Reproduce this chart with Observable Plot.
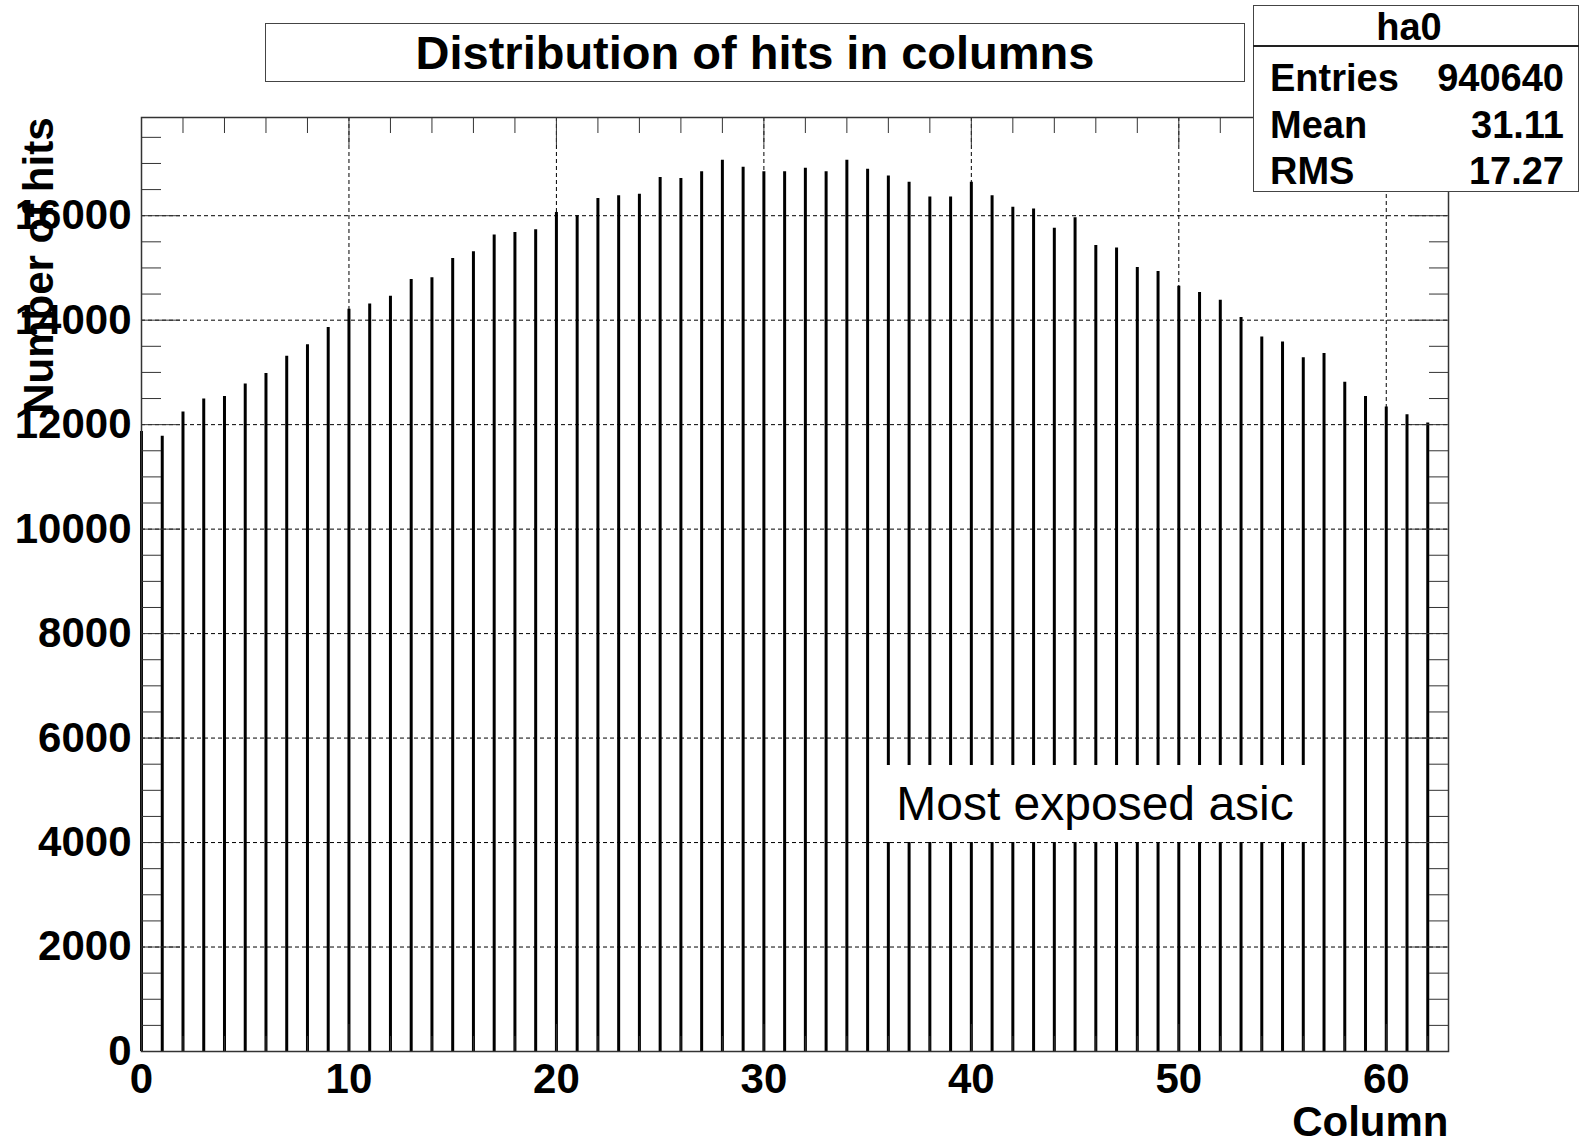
<!DOCTYPE html>
<html>
<head>
<meta charset="utf-8">
<script src="https://cdn.jsdelivr.net/npm/d3@7"></script>
<script src="https://cdn.jsdelivr.net/npm/@observablehq/plot@0.6"></script>
<style>
  body { margin: 0; background: #fff; font-family: "Liberation Sans", Arial, sans-serif; }
  #wrap { position: relative; width: 1583px; height: 1146px; overflow: hidden; }
  .box { position: absolute; background: #fff; border: 1.5px solid #444; box-sizing: border-box; }
  .t { position: absolute; line-height: 1; white-space: nowrap; color: #000; }
</style>
</head>
<body>
<div id="wrap"></div>
<script>
// ---- data ----
const columns = [0,1,2,3,4,5,6,7,8,9,10,11,12,13,14,15,16,17,18,19,20,21,22,23,24,25,26,27,28,29,30,
                 31,32,33,34,35,36,37,38,39,40,41,42,43,44,45,46,47,48,49,50,51,52,53,54,55,56,57,58,59,60,61,62];
const hits = [11870,11780,12240,12490,12540,12780,12980,13310,13530,13860,
              14210,14310,14460,14780,14810,15180,15310,15630,15680,15730,
              16060,16000,16330,16380,16410,16730,16710,16840,17060,16930,
              16840,16840,16910,16840,17060,16890,16760,16640,16360,16360,
              16640,16380,16160,16130,15760,15960,15430,15380,15010,14930,
              14650,14530,14380,14050,13680,13580,13280,13360,12810,12540,
              12340,12190,12030];
const xMajorTicks = [0,10,20,30,40,50,60];
const xMinorTicks = [2,4,6,8,12,14,16,18,22,24,26,28,32,34,36,38,42,44,46,48,52,54,56,58,62];
const yMajorTicks = [0,2000,4000,6000,8000,10000,12000,14000,16000];
const yMinorTicks = [500,1000,1500,2500,3000,3500,4500,5000,5500,6500,7000,7500,8500,9000,9500,
                     10500,11000,11500,12500,13000,13500,14500,15000,15500,16500,17000,17500];
const xDomain = [0, 63];
const yDomain = [0, 17880];
const title = "Distribution of hits in columns";
const xLabel = "Column";
const yLabel = "Number of hits";
const statsName = "ha0";
const statsRows = [["Entries","940640"],["Mean","31.11"],["RMS","17.27"]];
const annotation = "Most exposed asic";

const data = columns.map((c, i) => ({col: c, hits: hits[i]}));

const W = 1583, H = 1146;
const mL = 141, mR = 135, mT = 117, mB = 95;
const lab = {fontSize: 42, fontWeight: "bold"};

const chart = Plot.plot({
  width: W, height: H,
  marginLeft: mL, marginRight: mR, marginTop: mT, marginBottom: mB,
  style: {fontFamily: "Liberation Sans, Arial, sans-serif", background: "white", color: "black", overflow: "visible"},
  x: {type: "linear", domain: xDomain, label: null},
  y: {type: "linear", domain: yDomain, label: null},
  marks: [
    Plot.gridX(xMajorTicks, {stroke: "black", strokeOpacity: 1, strokeWidth: 1, strokeDasharray: "4,3"}),
    Plot.gridY(yMajorTicks, {stroke: "black", strokeOpacity: 1, strokeWidth: 1, strokeDasharray: "4,3"}),
    Plot.ruleX(data, {x: "col", y1: 0, y2: "hits", stroke: "black", strokeWidth: 3}),
    // inward ticks on all four sides
    Plot.axisX(xMajorTicks, {anchor: "top", tickSize: -27, text: null, label: null, stroke: "#333"}),
    Plot.axisX(xMinorTicks, {anchor: "top", tickSize: -15, text: null, label: null, stroke: "#333"}),
    Plot.axisX(xMajorTicks, {anchor: "bottom", tickSize: -27, text: null, label: null, stroke: "#333"}),
    Plot.axisX(xMinorTicks, {anchor: "bottom", tickSize: -15, text: null, label: null, stroke: "#333"}),
    Plot.axisY(yMajorTicks, {anchor: "left", tickSize: -39, text: null, label: null, stroke: "#333"}),
    Plot.axisY(yMinorTicks, {anchor: "left", tickSize: -20, text: null, label: null, stroke: "#333"}),
    Plot.axisY(yMajorTicks, {anchor: "right", tickSize: -39, text: null, label: null, stroke: "#333"}),
    Plot.axisY(yMinorTicks, {anchor: "right", tickSize: -20, text: null, label: null, stroke: "#333"}),
    // tick labels
    Plot.axisX(xMajorTicks, {anchor: "bottom", tickSize: 0, tickPadding: 12, label: null, tickFormat: d => String(d), ...lab}),
    Plot.axisY(yMajorTicks, {anchor: "left", tickSize: 0, tickPadding: 10, label: null, tickFormat: d => String(d), ...lab}),
    Plot.frame({stroke: "#333", strokeWidth: 1.5}),
    // axis titles
    Plot.text([xLabel], {text: d => d, frameAnchor: "bottom-right", textAnchor: "end", lineAnchor: "middle", dy: 71, ...lab}),
    Plot.text([yLabel], {text: d => d, frameAnchor: "top-left", textAnchor: "end", lineAnchor: "bottom", rotate: -90, dx: -89, dy: 0, ...lab})
  ]
});

const wrap = document.getElementById("wrap");
chart.style.position = "absolute";
chart.style.left = "0px";
chart.style.top = "0px";
wrap.appendChild(chart);

function el(tag, cls, css, txt) {
  const e = document.createElement(tag);
  if (cls) e.className = cls;
  Object.assign(e.style, css);
  if (txt != null) e.textContent = txt;
  return e;
}

// title box
const tb = el("div", "box", {left: "265px", top: "23px", width: "980px", height: "59px",
  display: "flex", alignItems: "center", justifyContent: "center"});
tb.appendChild(el("span", null, {fontSize: "47px", fontWeight: "bold", lineHeight: "1"}, title));
wrap.appendChild(tb);

// stats box
const sb = el("div", "box", {left: "1253px", top: "5px", width: "326px", height: "187px"});
wrap.appendChild(sb);
sb.appendChild(el("div", "t", {left: "0px", width: "310px", textAlign: "center", top: "2px", fontSize: "38px", fontWeight: "bold"}, statsName));
statsRows.forEach((r, i) => {
  const top = (53 + i * 46.5) + "px";
  sb.appendChild(el("div", "t", {left: "16px", top, fontSize: "38px", fontWeight: "bold"}, r[0]));
  sb.appendChild(el("div", "t", {right: "14px", top, fontSize: "38px", fontWeight: "bold", textAlign: "right"}, r[1]));
});
// header separator line, drawn as its own absolutely placed element on the page
wrap.appendChild(el("div", null, {position: "absolute", left: "1253px", top: "45px", width: "326px", height: "2px", background: "#222"}));

// annotation box
const ab = el("div", null, {position: "absolute", left: "872px", top: "765px", width: "446px", height: "77px",
  background: "#fff", display: "flex", alignItems: "center", justifyContent: "center"});
ab.appendChild(el("span", null, {fontSize: "48px", lineHeight: "1"}, annotation));
wrap.appendChild(ab);
</script>
</body>
</html>
